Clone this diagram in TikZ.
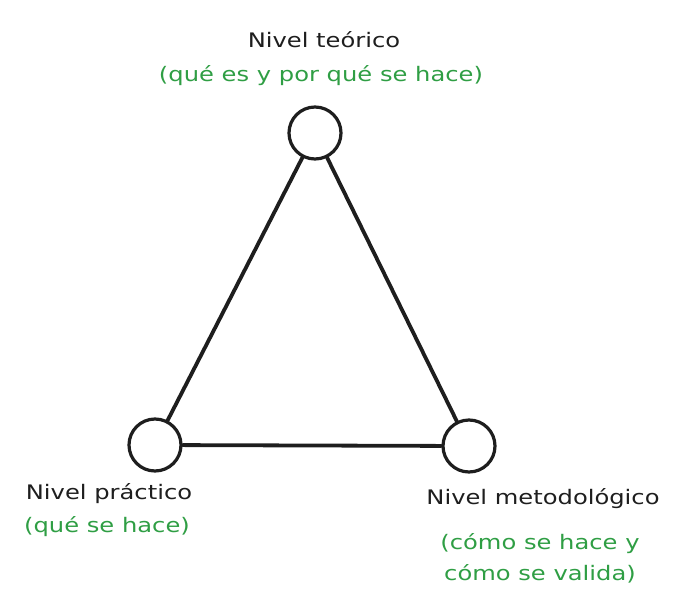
\documentclass[tikz,border=0pt]{standalone}
\usepackage{fontspec}
\setmainfont[FakeStretch=1.21]{DejaVu Sans}
\definecolor{ink}{HTML}{1E1E1E}
\definecolor{leaf}{HTML}{2F9E44}
\begin{document}
\begin{tikzpicture}[x=1pt,y=-1pt,
  lvl/.style={circle,draw=ink,line width=3.2pt,minimum size=52pt,inner sep=0pt},
  link/.style={draw=ink,line width=3.8pt,line cap=round},
  ttl/.style={text=ink,font=\fontsize{20}{31}\selectfont,inner sep=0pt,anchor=center},
  sub/.style={text=leaf,font=\fontsize{20}{31}\selectfont,inner sep=0pt,anchor=center}]
\useasboundingbox (0,0) rectangle (693,610);
\node[lvl] (t) at (315,133) {};
\node[lvl] (p) at (155,445) {};
\node[lvl] (m) at (469,446) {};
\draw[link] (t) -- (p);
\draw[link] (t) -- (m);
\draw[link] (p) -- (m);
\node[ttl] (tt) at (324,40) {Nivel teórico};
\node[sub] (ts) at (321,76) {(qué es y por qué se hace)};
\node[ttl] (pt) at (109,494) {Nivel práctico};
\node[sub] (ps) at (107,527) {(qué se hace)};
\node[ttl] (mt) at (543,499) {Nivel metodológico};
\node[sub,align=center] (ms) at (540,558) {(cómo se hace y\\cómo se valida)};
\end{tikzpicture}
\end{document}
